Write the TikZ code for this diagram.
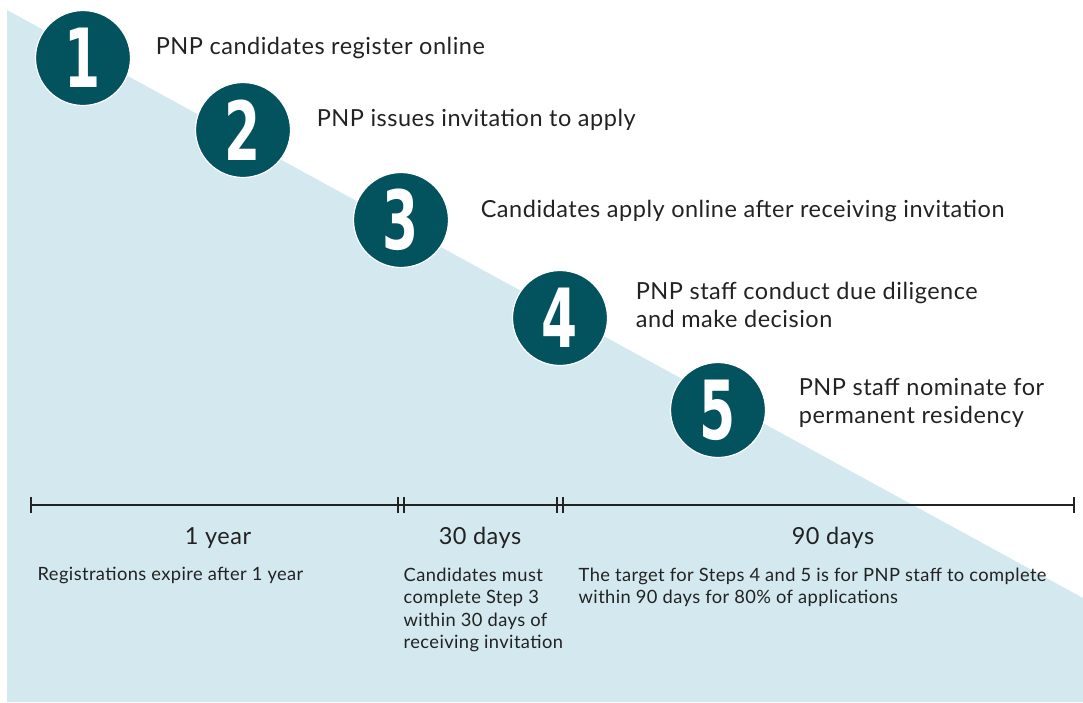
\documentclass[tikz,border=0pt]{standalone}
\usepackage{fontspec}
\setmainfont{Lato}[LetterSpace=2.2]
\newfontfamily\numfont{DejaVu Sans Condensed}
\usetikzlibrary{positioning}
\definecolor{stepteal}{HTML}{03535F}
\definecolor{paleblue}{HTML}{D3E9EF}
\definecolor{inkgray}{HTML}{222222}
\tikzset{
  stepdot/.style={circle,fill=stepteal,draw=white,line width=1.2pt,minimum size=95pt,inner sep=0pt,
    text=white,font=\numfont\bfseries\fontsize{80}{80}\selectfont},
  steptext/.style={align=left,inner sep=0pt,text=inkgray,font=\fontsize{23.5}{28}\selectfont},
  spanlabel/.style={inner sep=0pt,text=inkgray,font=\fontsize{23.5}{24}\selectfont},
  note/.style={anchor=north west,align=left,inner sep=0pt,text=inkgray,font=\fontsize{18.3}{22.5}\selectfont}
}
\newcommand\stepnum[1]{\scalebox{0.72}[1.02]{#1}}
\begin{document}
\begin{tikzpicture}[x=1pt,y=-1pt,line width=1.4pt]
\useasboundingbox (0,0) rectangle (1083,702);
\fill[paleblue] (7,10) -- (1083,598) -- (1083,702) -- (7,702) -- cycle;

\node[stepdot] (s1) at (83,58) {\stepnum{1}};
\node[stepdot] (s2) at (243,130) {\stepnum{2}};
\node[stepdot] (s3) at (401,220) {\stepnum{3}};
\node[stepdot] (s4) at (560,318) {\stepnum{4}};
\node[stepdot] (s5) at (718,410) {\stepnum{5}};

\node[steptext,right=24pt of s1,yshift=10pt] (l1) {PNP candidates register online};
\node[steptext,right=25pt of s2,yshift=10pt] (l2) {PNP issues invitation to apply};
\node[steptext,right=31pt of s3,yshift=9pt] (l3) {Candidates apply online after receiving invitation};
\node[steptext,right=27pt of s4,yshift=13pt] (l4) {PNP staff conduct due diligence\\and make decision};
\node[steptext,right=32pt of s5,yshift=7pt] (l5) {PNP staff nominate for\\permanent residency};

\coordinate (t0) at (31,505);
\coordinate (t3) at (1074,505);
\draw[inkgray] (t0) -- (t3);
\foreach \x in {31,398,404,557,563,1074}
  \draw[inkgray,line width=2.6pt] (\x,497) -- (\x,513);

\node[spanlabel] (year) at (218,538) {1 year};
\node[spanlabel] (month) at (480,538) {30 days};
\node[spanlabel] (quarter) at (833,538) {90 days};

\node[note] (nyear) at (37,566) {Registrations expire after 1 year};
\node[note] (nmonth) at (403,567) {Candidates must\\complete Step 3\\within 30 days of\\receiving invitation};
\node[note] (nquarter) at (578,567) {The target for Steps 4 and 5 is for PNP staff to complete\\within 90 days for 80\% of applications};
\end{tikzpicture}
\end{document}
